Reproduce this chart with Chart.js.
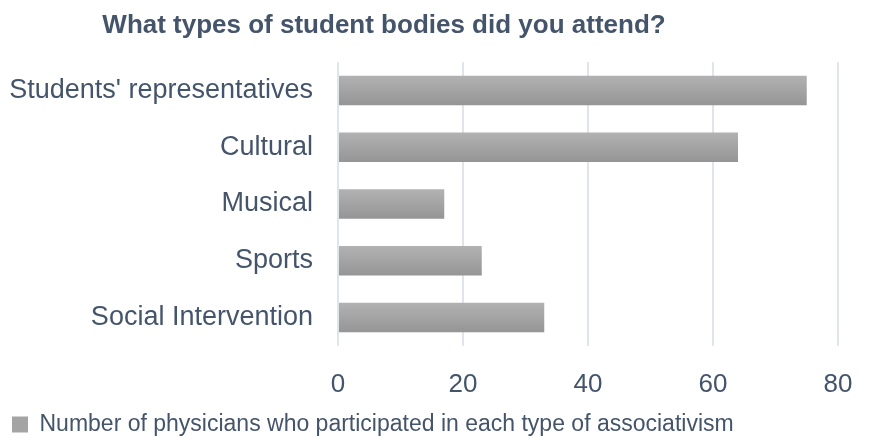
<!DOCTYPE html>
<html>
<head>
<meta charset="utf-8">
<script src="https://cdn.jsdelivr.net/npm/chart.js@4.4.1/dist/chart.umd.min.js"></script>
<style>
  html, body { margin: 0; padding: 0; background: #ffffff; }
  #wrap { width: 880px; height: 439px; position: relative; }
</style>
</head>
<body>
<div id="wrap"><canvas id="c"></canvas></div>
<script>
const categories = ["Students' representatives", "Cultural", "Musical", "Sports", "Social Intervention"];
const participants = [75, 64, 17, 23, 33];
const seriesName = "Number of physicians who participated in each type of associativism";
const chartTitle = "What types of student bodies did you attend?";
const xTicks = [0, 20, 40, 60, 80];

const TEXT = '#44546a';
const FONT = "'Liberation Sans', Arial, sans-serif";
const BAR_PCT = 0.52;

function barGradient(ctx) {
  const chart = ctx.chart;
  const y = chart.scales && chart.scales.y;
  if (!y || ctx.type !== 'data' || !isFinite(y.top) || y.bottom === y.top) return '#a3a3a3';
  const c = y.getPixelForValue(ctx.dataIndex);
  const h = (y.bottom - y.top) / categories.length * BAR_PCT;
  const g = chart.ctx.createLinearGradient(0, c - h / 2, 0, c + h / 2);
  g.addColorStop(0, '#b2b2b2');
  g.addColorStop(1, '#959595');
  return g;
}

const titlePlugin = {
  id: 'customTitle',
  afterDraw(chart) {
    const ctx = chart.ctx;
    ctx.save();
    ctx.font = "bold 26px " + FONT;
    ctx.fillStyle = TEXT;
    ctx.textAlign = 'center';
    ctx.textBaseline = 'middle';
    ctx.fillText(chartTitle, 384, 26);
    ctx.restore();
  }
};

new Chart(document.getElementById('c'), {
  type: 'bar',
  data: {
    labels: categories,
    datasets: [{
      label: seriesName,
      data: participants,
      backgroundColor: barGradient,
      borderWidth: 0,
      categoryPercentage: 1,
      barPercentage: BAR_PCT
    }]
  },
  plugins: [titlePlugin],
  options: {
    indexAxis: 'y',
    responsive: true,
    maintainAspectRatio: false,
    animation: false,
    layout: { padding: { top: 62, right: 42, bottom: -7, left: 10 } },
    scales: {
      x: {
        min: 0, max: 80,
        afterBuildTicks(scale) { scale.ticks = xTicks.map(v => ({ value: v })); },
        afterFit(scale) { scale.height = 65; },
        grid: { color: '#e0e4eb', lineWidth: 2, drawTicks: false },
        border: { display: false },
        ticks: { color: TEXT, font: { family: FONT, size: 26 }, padding: 23 }
      },
      y: {
        afterFit(scale) { scale.width = 328; },
        grid: { display: false, drawTicks: false },
        border: { display: false },
        ticks: { color: TEXT, font: { family: FONT, size: 27 }, padding: 25 }
      }
    },
    plugins: {
      title: { display: false },
      tooltip: { enabled: false },
      legend: {
        display: true,
        position: 'bottom',
        align: 'start',
        labels: {
          color: TEXT,
          font: { family: FONT, size: 23 },
          boxWidth: 16,
          boxHeight: 16,
          padding: 2,
          generateLabels(chart) {
            const items = Chart.defaults.plugins.legend.labels.generateLabels(chart);
            items.forEach(it => { it.fillStyle = '#a4a4a4'; it.lineWidth = 0; it.strokeStyle = 'rgba(0,0,0,0)'; });
            return items;
          }
        }
      }
    }
  }
});
</script>
</body>
</html>
